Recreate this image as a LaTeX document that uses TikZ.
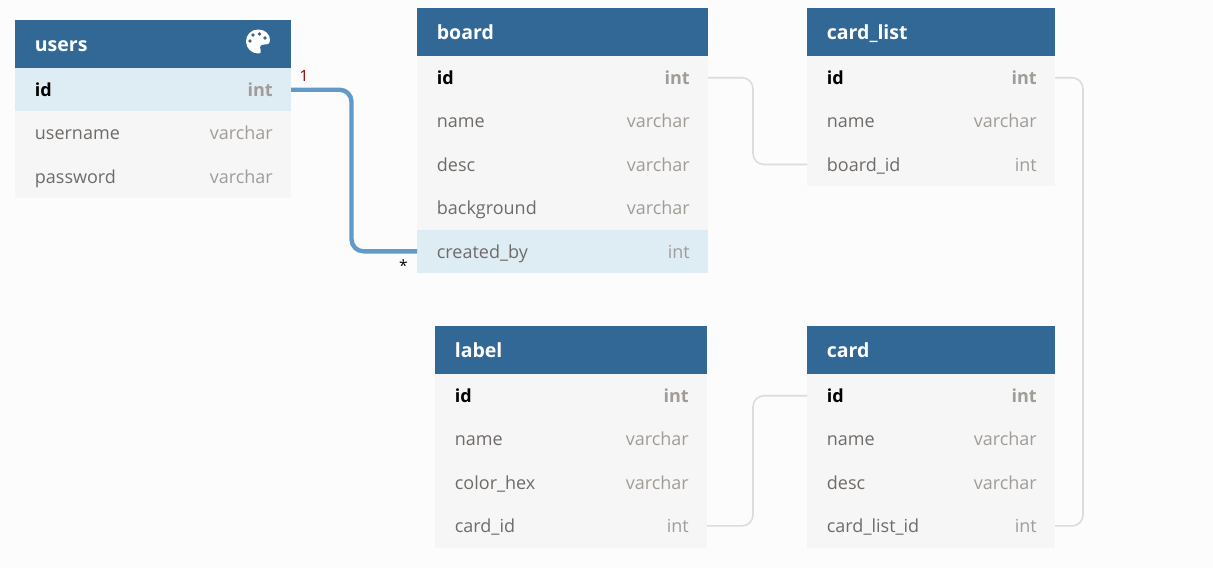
\documentclass[tikz,border=0pt]{standalone}
\usepackage{fontspec}
\setmainfont{Open Sans}
\definecolor{bgc}{HTML}{FCFCFC}
\definecolor{headc}{HTML}{316896}
\definecolor{rowc}{HTML}{F6F6F6}
\definecolor{hic}{HTML}{DEECF4}
\definecolor{namec}{HTML}{6F6B68}
\definecolor{typec}{HTML}{A09C98}
\definecolor{linkc}{HTML}{DCDCDC}
\definecolor{activec}{HTML}{6199C8}
\tikzset{
  cellbox/.style={draw=none,inner sep=0,outer sep=0,anchor=north west},
  headbox/.style={cellbox,fill=headc},
  rowbox/.style={cellbox,fill=rowc},
  hibox/.style={cellbox,fill=hic},
  headtext/.style={inner sep=0,anchor=base west,text=white,font=\fontsize{19.5}{22}\selectfont\bfseries},
  nametext/.style={inner sep=0,anchor=base west,text=namec,font=\fontsize{18}{20}\selectfont},
  typetext/.style={inner sep=0,anchor=base east,text=typec,font=\fontsize{18}{20}\selectfont},
  pkname/.style={nametext,text=black,font=\fontsize{18}{20}\selectfont\bfseries},
  pktype/.style={typetext,font=\fontsize{18}{20}\selectfont\bfseries},
  link/.style={draw=linkc,line width=1.6pt,rounded corners=11pt},
  activelink/.style={draw=activec,line width=4.4pt,rounded corners=12pt},
  relmark/.style={inner sep=0,anchor=base,font=\fontsize{15.5}{17}\selectfont},
}
% \tblhead{name}{x}{y}{w}{title}
\newcommand{\tblhead}[5]{%
  \node[headbox,minimum width=#4pt,minimum height=48pt] (#1) at (#2,#3) {};
  \node[headtext] (#1t) at (#2+19.7,#3+31) {#5};
}
% \tblrow{name}{x}{y}{h}{w}{box style}{name style}{type style}{label}{type}
\newcommand{\tblrow}[9]{%
  \node[#6,minimum width=#5pt,minimum height=#4pt] (#1) at (#2,#3) {};
  \node[#7] (#1n) at (#2+19.7,#3+#4/2+6.8) {#9};
  \tblrowtype{#1}{#2+#5-18}{#3+#4/2+6.8}{#8}%
}
\newcommand{\tblrowtype}[5]{\node[#4] (#1v) at (#2,#3) {#5};}
\begin{document}
\begin{tikzpicture}[x=1pt,y=-1pt]
\useasboundingbox (0,0) rectangle (1213,568);
\fill[bgc] (0,0) rectangle (1213,568);

% users
\tblhead{users}{15}{20}{276}{users}
\tblrow{uid}{15}{68}{43.4}{276}{hibox}{pkname}{pktype}{id}{int}
\tblrow{uname}{15}{111.4}{43.4}{276}{rowbox}{nametext}{typetext}{username}{varchar}
\tblrow{upass}{15}{154.8}{43.4}{276}{rowbox}{nametext}{typetext}{password}{varchar}

% palette icon
\fill[white,even odd rule] (258,29.5)
  .. controls (251,29.5) and (246,35) .. (246,41.5)
  .. controls (246,48) and (251.5,53.5) .. (258,53.5)
  .. controls (261,53.5) and (261.5,51.5) .. (260.5,49.5)
  .. controls (259,46.5) and (261,44.5) .. (264,44.5)
  .. controls (266,44.5) and (270,45) .. (270,40)
  .. controls (270,34) and (265,29.5) .. (258,29.5) -- cycle;
\fill[headc] (250,41) circle (1.8) (253,35) circle (1.8) (259.5,34) circle (1.8) (265,38) circle (1.8);

% board
\tblhead{board}{417}{8}{291}{board}
\tblrow{bid}{417}{56}{43.4}{291}{rowbox}{pkname}{pktype}{id}{int}
\tblrow{bname}{417}{99.4}{43.4}{291}{rowbox}{nametext}{typetext}{name}{varchar}
\tblrow{bdesc}{417}{142.8}{43.4}{291}{rowbox}{nametext}{typetext}{desc}{varchar}
\tblrow{bback}{417}{186.2}{43.4}{291}{rowbox}{nametext}{typetext}{background}{varchar}
\tblrow{bcreated}{417}{229.6}{43.4}{291}{hibox}{nametext}{typetext}{created\_by}{int}

% card_list
\tblhead{clist}{807}{8}{248}{card\_list}
\tblrow{cid}{807}{56}{43.4}{248}{rowbox}{pkname}{pktype}{id}{int}
\tblrow{cname}{807}{99.4}{43.4}{248}{rowbox}{nametext}{typetext}{name}{varchar}
\tblrow{cboard}{807}{142.8}{43.4}{248}{rowbox}{nametext}{typetext}{board\_id}{int}

% label
\tblhead{label}{435}{326}{272}{label}
\tblrow{lid}{435}{374}{43.4}{272}{rowbox}{pkname}{pktype}{id}{int}
\tblrow{lname}{435}{417.4}{43.4}{272}{rowbox}{nametext}{typetext}{name}{varchar}
\tblrow{lcolor}{435}{460.8}{43.4}{272}{rowbox}{nametext}{typetext}{color\_hex}{varchar}
\tblrow{lcard}{435}{504.2}{43.4}{272}{rowbox}{nametext}{typetext}{card\_id}{int}

% card
\tblhead{card}{807}{326}{248}{card}
\tblrow{did}{807}{374}{43.4}{248}{rowbox}{pkname}{pktype}{id}{int}
\tblrow{dname}{807}{417.4}{43.4}{248}{rowbox}{nametext}{typetext}{name}{varchar}
\tblrow{ddesc}{807}{460.8}{43.4}{248}{rowbox}{nametext}{typetext}{desc}{varchar}
\tblrow{dlist}{807}{504.2}{43.4}{248}{rowbox}{nametext}{typetext}{card\_list\_id}{int}

% connectors
\draw[activelink] (uid.east) -- ++(60.5,0) |- (bcreated.west);
\draw[link] (bid.east) -- ++(45,0) |- (cboard.west);
\draw[link] (lcard.east) -- ++(46,0) |- (did.west);
\draw[link] (dlist.east) -- ++(28,0) |- (cid.east);

\node[relmark,text=red!55!black] (one) at (304,81.5) {1};
\node[relmark,text=black] (many) at (403.5,271) {*};
\end{tikzpicture}
\end{document}
